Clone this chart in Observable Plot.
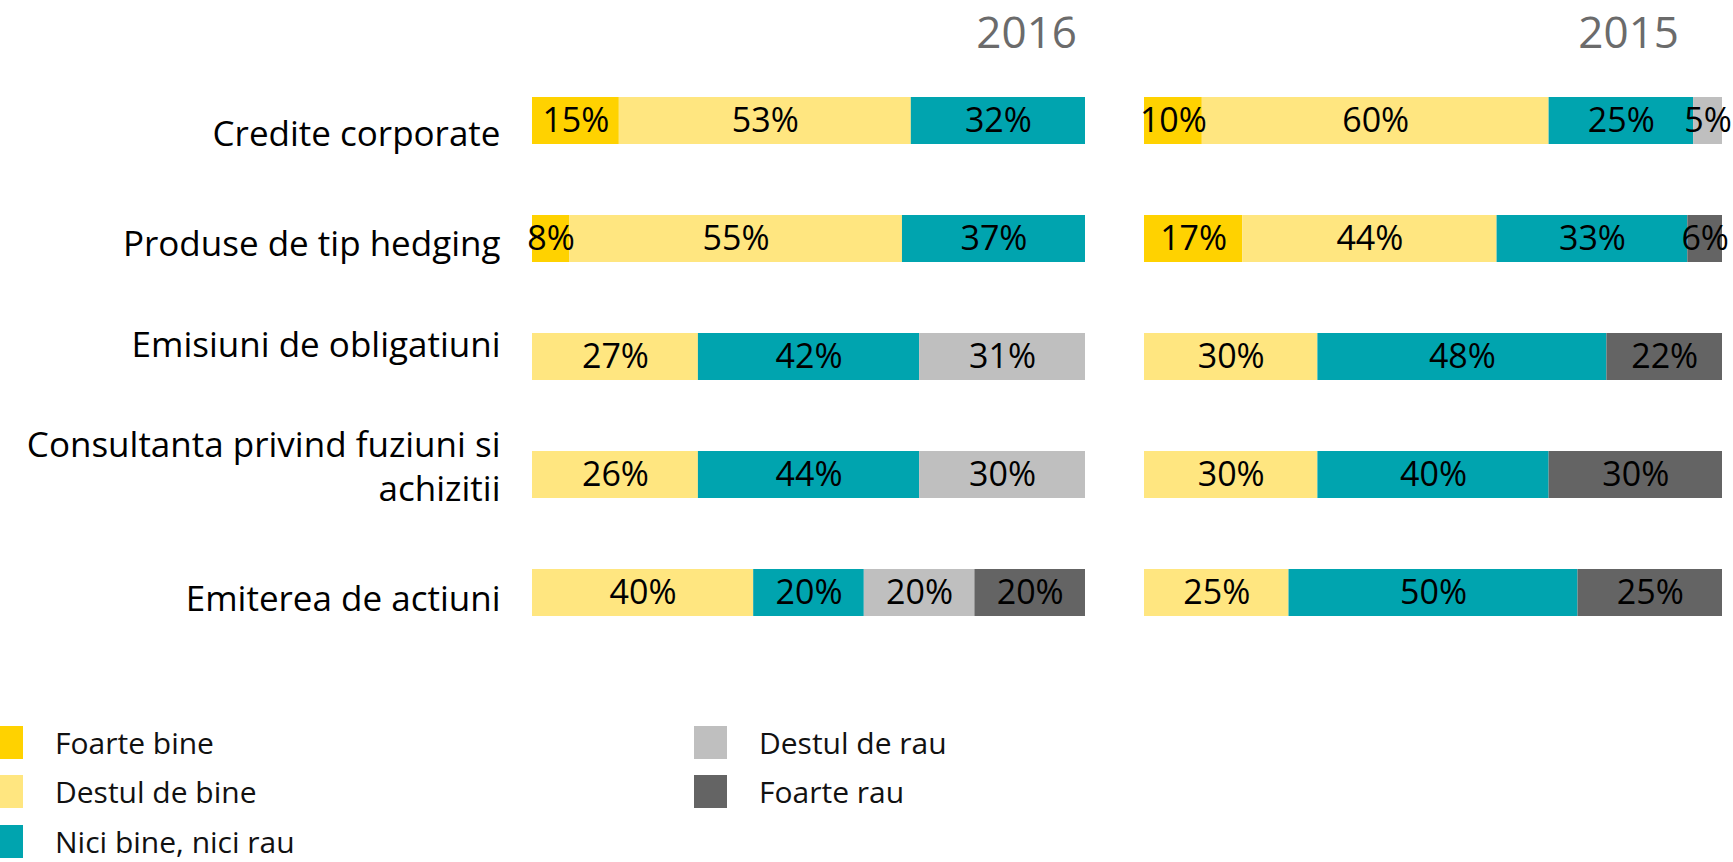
<!DOCTYPE html>
<html>
<head>
<meta charset="utf-8">
<script src="https://cdn.jsdelivr.net/npm/d3@7"></script>
<script src="https://cdn.jsdelivr.net/npm/@observablehq/plot@0.6"></script>
<style>
  body { margin: 0; background: #fff; font-family: "Open Sans", sans-serif; }
  #root { position: relative; width: 1733px; height: 862px; overflow: hidden; background: #fff; }
  .panel { position: absolute; top: 0; }
  .year { position: absolute; top: 9px; left: 0; font-size: 44px; line-height: 44px; color: #6b6b6b; text-align: right; }
  .legend { position: absolute; left: -10px; top: 726px; display: grid; grid-template-columns: 704px auto;
            grid-template-rows: 49px 50px 33px; grid-auto-flow: column; }
  .item { display: flex; align-items: center; height: 33px; align-self: start; }
  .sw { width: 33px; height: 33px; flex: none; }
  .lt { margin-left: 32px; font-size: 30px; line-height: 33px; color: #111; white-space: nowrap; }
</style>
</head>
<body>
<div id="root"></div>
<script>
// ---- data ----
const categories = [
  "Credite corporate",
  "Produse de tip hedging",
  "Emisiuni de obligatiuni",
  "Consultanta privind fuziuni si\nachizitii",
  "Emiterea de actiuni"
];
const levels = ["Foarte bine", "Destul de bine", "Nici bine, nici rau", "Destul de rau", "Foarte rau"];
const colors = ["#FFD200", "#FFE680", "#00A4AF", "#BFBFBF", "#646464"];
const years = ["2016", "2015"];

// segment lengths as drawn in the picture (share of bar, %)
const drawn2016 = [
  [15.7, 52.8, 31.5, 0, 0],
  [6.7, 60.2, 33.1, 0, 0],
  [0, 30, 40, 30, 0],
  [0, 30, 40, 30, 0],
  [0, 40, 20, 20, 20]
];
// percentages printed on the segments
const printed2016 = [
  [15, 53, 32, 0, 0],
  [8, 55, 37, 0, 0],
  [0, 27, 42, 31, 0],
  [0, 26, 44, 30, 0],
  [0, 40, 20, 20, 20]
];
const drawn2015 = [
  [10, 60, 25, 5, 0],
  [17, 44, 33, 0, 6],
  [0, 30, 50, 0, 20],
  [0, 30, 40, 0, 30],
  [0, 25, 50, 0, 25]
];
const printed2015 = [
  [10, 60, 25, 5, 0],
  [17, 44, 33, 0, 6],
  [0, 30, 48, 0, 22],
  [0, 30, 40, 0, 30],
  [0, 25, 50, 0, 25]
];

// layout: vertical nudge (px) of each category label relative to its bar centre
const labelNudge = [11, 3, -14, -10, 4];

// ---- drawing ----
function rowsFor(drawn, printed) {
  const rows = [];
  categories.forEach((c, i) => levels.forEach((l, j) => {
    if (drawn[i][j] > 0) rows.push({cat: c, level: l, value: drawn[i][j], pct: printed[i][j]});
  }));
  return rows;
}

function panel(drawn, printed, opts) {
  const rows = rowsFor(drawn, printed);
  const labelMarks = opts.showLabels
    ? categories.map((c, i) => Plot.text([c], {
        y: d => d, text: d => d, frameAnchor: "left", textAnchor: "end",
        dx: -32, dy: labelNudge[i], fontSize: 35, lineHeight: 1.25, fill: "#000"
      }))
    : [];
  return Plot.plot({
    width: opts.width,
    height: 660,
    marginLeft: opts.marginLeft,
    marginRight: opts.marginRight,
    marginTop: 60,
    marginBottom: 6,
    x: {domain: [0, 100], axis: null},
    y: {domain: categories, axis: null, paddingInner: 0.6, paddingOuter: 0.3},
    color: {domain: levels, range: colors},
    style: {fontFamily: "'Open Sans', sans-serif", background: "transparent", overflow: "visible"},
    marks: [
      Plot.barX(rows, Plot.stackX({x: "value", y: "cat", fill: "level", order: levels})),
      Plot.text(rows, Plot.stackX({
        x: "value", y: "cat", z: "level", order: levels,
        text: d => d.pct + "%", fontSize: 34, fill: "#000"
      })),
      ...labelMarks
    ]
  });
}

const root = document.getElementById("root");

const p1 = panel(drawn2016, printed2016, {width: 1090, marginLeft: 532, marginRight: 5, showLabels: true});
p1.classList.add("panel"); p1.style.left = "0px";
root.appendChild(p1);

const p2 = panel(drawn2015, printed2015, {width: 633, marginLeft: 44, marginRight: 11, showLabels: false});
p2.classList.add("panel"); p2.style.left = "1100px";
root.appendChild(p2);

// year titles
const yearRight = [1077, 1679];
years.forEach((y, i) => {
  const d = document.createElement("div");
  d.className = "year";
  d.style.width = yearRight[i] + "px";
  d.textContent = y;
  root.appendChild(d);
});

// legend
const leg = document.createElement("div");
leg.className = "legend";
levels.forEach((l, i) => {
  const it = document.createElement("div");
  it.className = "item";
  const sw = document.createElement("div");
  sw.className = "sw";
  sw.style.background = colors[i];
  const t = document.createElement("span");
  t.className = "lt";
  t.textContent = l;
  it.appendChild(sw); it.appendChild(t);
  leg.appendChild(it);
});
root.appendChild(leg);
</script>
</body>
</html>
